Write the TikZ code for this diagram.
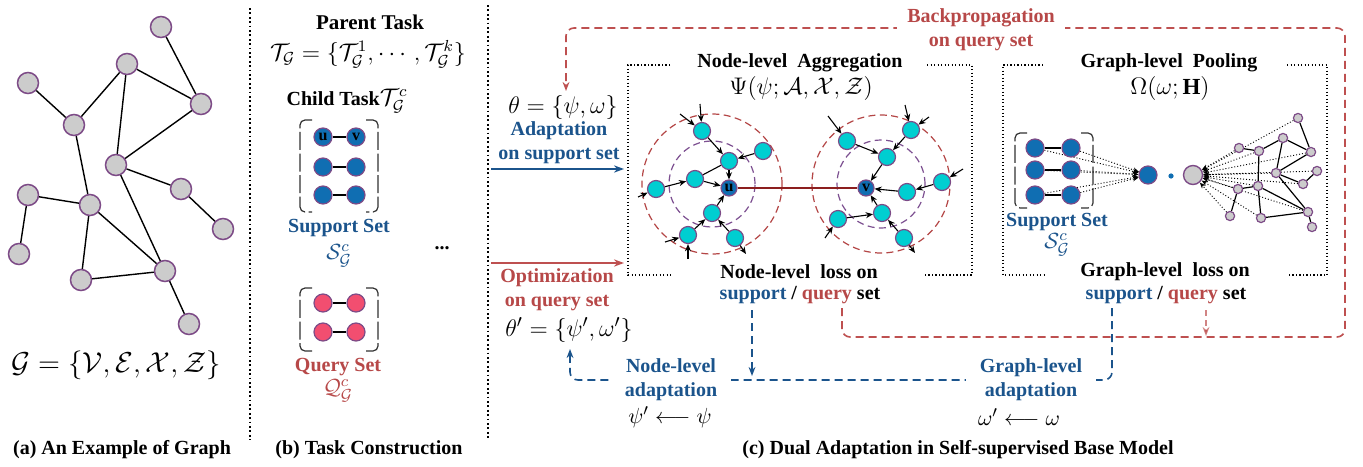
\documentclass[tikz,border=0pt]{standalone}
\usepackage{fontspec}
\setmainfont{Liberation Serif}
\usepackage{amsmath}
\usetikzlibrary{arrows.meta,backgrounds}
\definecolor{nodeGray}{RGB}{204,204,204}
\definecolor{purpB}{RGB}{125,75,135}
\definecolor{supBlue}{RGB}{16,110,178}
\definecolor{qPink}{RGB}{242,78,112}
\definecolor{cyanN}{RGB}{0,206,209}
\definecolor{txtBlue}{RGB}{27,84,140}
\definecolor{txtRed}{RGB}{183,72,72}
\definecolor{dRed}{RGB}{190,80,80}
\definecolor{ringRed}{RGB}{180,70,70}
\definecolor{ringPurp}{RGB}{125,80,145}
\definecolor{uvRed}{RGB}{140,30,30}
\definecolor{brk}{RGB}{50,50,50}
\begin{document}
\begin{tikzpicture}[x=0.5pt,y=-0.5pt,
 gnode/.style={circle,fill=nodeGray,draw=purpB,line width=0.75pt,minimum size=10.5pt,inner sep=0pt},
 snode/.style={circle,fill=supBlue,draw=purpB,line width=0.6pt,minimum size=9pt,inner sep=0pt,font=\fontsize{8}{8}\selectfont\bfseries},
 qnode/.style={snode,fill=qPink},
 cnode/.style={circle,fill=cyanN,draw=purpB,line width=0.6pt,minimum size=8.5pt,inner sep=0pt},
 tnode/.style={circle,fill=nodeGray,draw=purpB,line width=0.6pt,minimum size=4.6pt,inner sep=0pt},
 gedge/.style={line width=0.7pt},
 arr/.style={line width=0.55pt,-{Stealth[length=3.6pt,width=3pt]}},
 bigarr/.style={line width=0.8pt,-{Stealth[length=5pt,width=3.6pt]}},
 sepline/.style={line width=0.9pt,dash pattern=on 0.9pt off 1.3pt},
 boxline/.style={line width=0.55pt,dash pattern=on 0.55pt off 1.2pt},
 lbl/.style={font=\bfseries,inner sep=1pt},
 blbl/.style={lbl,text=txtBlue},
 rlbl/.style={lbl,text=txtRed},
 bracket/.style={draw=brk,line width=0.6pt,dash pattern=on 9pt off 1.8pt,rounded corners=2.5pt},
 reddash/.style={draw=dRed,line width=0.8pt,dash pattern=on 4pt off 2.5pt,rounded corners=4pt},
 bluedash/.style={draw=txtBlue,line width=0.8pt,dash pattern=on 4pt off 2.5pt,rounded corners=4pt},
 dashtip/.style={-{Stealth[length=4.5pt,width=3.4pt]}},
 dotarr/.style={line width=0.45pt,dash pattern=on 0.5pt off 1pt,-{Stealth[length=3pt,width=2.4pt]}},
 ringR/.style={draw=ringRed,line width=0.6pt,dash pattern=on 3.5pt off 2.2pt},
 ringP/.style={draw=ringPurp,line width=0.6pt,dash pattern=on 3.5pt off 2.2pt}
]
\begin{pgfonlayer}{background}
\fill[white] (0,0) rectangle (1363,466);
\end{pgfonlayer}
\useasboundingbox (0,0) rectangle (1363,466);

% ---------------- panel (a)
\node[gnode] (n1) at (161,27) {};
\node[gnode] (n2) at (127,64) {};
\node[gnode] (n3) at (28,83) {};
\node[gnode] (n4) at (201,104) {};
\node[gnode] (n5) at (74,125) {};
\node[gnode] (n6) at (116,165) {};
\node[gnode] (n7) at (181,189) {};
\node[gnode] (n8) at (28,195) {};
\node[gnode] (n9) at (90,205) {};
\node[gnode] (n10) at (223,229) {};
\node[gnode] (n11) at (19,254) {};
\node[gnode] (n12) at (81,280) {};
\node[gnode] (n13) at (165,271) {};
\node[gnode] (n14) at (189,324) {};
\foreach \a/\b in {n1/n4,n2/n4,n2/n5,n2/n6,n3/n5,n4/n6,n5/n9,n6/n7,n6/n13,n7/n10,n8/n9,n8/n11,n9/n12,n9/n13,n12/n13,n13/n14}
  \draw[gedge] (\a) -- (\b);
\node (gf) at (116,365) {\fontsize{14}{16}\selectfont $\mathcal{G}=\{\mathcal{V},\mathcal{E},\mathcal{X},\mathcal{Z}\}$};
\node[lbl] (capa) at (122,450) {(a) An Example of Graph};

\draw[sepline] (250,8) -- (250,440);

% ---------------- panel (b)
\node[lbl,font=\bfseries\fontsize{10.5}{12}\selectfont] (pt) at (370,22) {Parent Task};
\node (tg) at (368,54) {\fontsize{12}{14}\selectfont $\mathcal{T}_{\mathcal{G}}=\{\mathcal{T}^1_{\mathcal{G}},\cdots,\mathcal{T}^k_{\mathcal{G}}\}$};
\node[lbl] (ct) at (347,101) {Child Task{\fontsize{11.5}{13}\selectfont$\mathcal{T}^c_{\mathcal{G}}$}};
\node[snode] (s1u) at (323,137) {u};
\node[snode] (s1v) at (356,137) {v};
\node[snode] (s2u) at (323,167) {};
\node[snode] (s2v) at (356,167) {};
\node[snode] (s3u) at (323,195) {};
\node[snode] (s3v) at (356,195) {};
\foreach \a/\b in {s1u/s1v,s2u/s2v,s3u/s3v} \draw[gedge] (\a) -- (\b);
\draw[bracket] (312,120) -| (300,212) -- (312,212);
\draw[bracket] (366,120) -| (378,212) -- (366,212);
\node[blbl] (ss) at (339,228) {Support Set};
\node[text=txtBlue] (ssm) at (339,256) {\fontsize{11}{12}\selectfont$\mathcal{S}^c_{\mathcal{G}}$};
\node[lbl] (dots) at (442,248) {...};
\node[qnode] (q1u) at (323,303) {};
\node[qnode] (q1v) at (356,303) {};
\node[qnode] (q2u) at (323,332) {};
\node[qnode] (q2v) at (356,332) {};
\foreach \a/\b in {q1u/q1v,q2u/q2v} \draw[gedge] (\a) -- (\b);
\draw[bracket] (312,288) -| (300,351) -- (312,351);
\draw[bracket] (366,288) -| (378,351) -- (366,351);
\node[rlbl] (qs) at (338,367) {Query Set};
\node[text=txtRed] (qsm) at (338,391) {\fontsize{11}{12}\selectfont$\mathcal{Q}^c_{\mathcal{G}}$};
\node[lbl] (capb) at (369,450) {(b) Task Construction};

\draw[sepline] (488,5) -- (488,440);

% ---------------- panel (c) left column
\node (th) at (563,107) {\fontsize{13}{15}\selectfont$\theta=\{\psi,\omega\}$};
\node[blbl,align=center] (adl) at (559,143) {Adaptation\\on support set};
\coordinate (ab0) at (491,169); \coordinate (ab1) at (624,169);
\draw[bigarr,txtBlue] (ab0) -- (ab1);
\coordinate (ar0) at (491,263); \coordinate (ar1) at (624,263);
\draw[bigarr,dRed] (ar0) -- (ar1);
\node[rlbl,align=center] (opl) at (557,290) {Optimization\\on query set};
\node (thp) at (569,330) {\fontsize{13}{15}\selectfont$\theta'=\{\psi',\omega'\}$};

% ---------------- node-level box
\draw[boxline] (670,65) -- (628,65) -- (628,275) -- (672,275);
\draw[boxline] (927,65) -- (972,65) -- (972,275) -- (925,275);
\node[lbl] (nat) at (800,63) {Node-level\ \ Aggregation};
\node (psi) at (801,88) {\fontsize{11.5}{13}\selectfont$\Psi(\psi;\mathcal{A},\mathcal{X},\mathcal{Z})$};

\draw[ringR] (712,184) circle[radius=35pt];
\draw[ringP] (712,184) circle[radius=21.5pt];
\draw[ringR] (881,184) circle[radius=34.5pt];
\draw[ringP] (881,184) circle[radius=22pt];

\node[cnode] (a1) at (702,131) {};
\node[cnode] (a2) at (729,161) {};
\node[cnode] (a3) at (763,151) {};
\node[cnode] (a4) at (695,179) {};
\node[cnode] (a5) at (656,189) {};
\node[cnode] (a6) at (712,213) {};
\node[cnode] (a7) at (688,235) {};
\node[cnode] (a8) at (735,238) {};
\node[snode,minimum size=8pt] (u) at (729,188) {u};
\coordinate (ea1a) at (700,104); \coordinate (ea1b) at (680,114);
\coordinate (ea5) at (638,197); \coordinate (ea7a) at (665,242);
\coordinate (ea7b) at (688,259); \coordinate (ea8) at (746,254);
\foreach \a/\b in {ea1a/a1,ea1b/a1,a1/a2,a3/a2,a2/u,ea5/a5,a5/a4,a4/u,a6/u,a7/a6,a8/a6,ea7a/a7,ea7b/a7,a8/ea8}
  \draw[arr] (\a) -- (\b);
\draw[line width=0.55pt] (a4) -- (a2);

\node[cnode] (b1) at (847,141) {};
\node[cnode] (b2) at (911,130) {};
\node[cnode] (b3) at (887,157) {};
\node[cnode] (b4) at (942,182) {};
\node[cnode] (b5) at (907,192) {};
\node[cnode] (b6) at (882,213) {};
\node[cnode] (b7) at (838,219) {};
\node[cnode] (b8) at (904,238) {};
\node[snode,minimum size=8pt] (v) at (866,188) {v};
\coordinate (eb1) at (828,116); \coordinate (eb2a) at (905,105);
\coordinate (eb2b) at (929,117); \coordinate (eb4) at (963,169);
\coordinate (eb7) at (825,238); \coordinate (eb8) at (915,253);
\foreach \a/\b in {eb1/b1,b1/b3,eb2a/b2,eb2b/b2,b2/b3,b3/v,eb4/b4,b4/b5,b5/v,b6/v,b7/b6,b8/b6,eb7/b7,b8/eb8}
  \draw[arr] (\a) -- (\b);
\draw[uvRed,line width=0.8pt] (u) -- (v);

\node[lbl] (nll) at (799,272) {Node-level\ \ loss on};
\node[lbl] (nls) at (800,295) {\textcolor{txtBlue}{support} / \textcolor{txtRed}{query} set};

% ---------------- graph-level box
\draw[boxline] (1043,65) -- (1003,65) -- (1003,275) -- (1045,275);
\draw[boxline] (1287,65) -- (1327,65) -- (1327,275) -- (1287,275);
\node[lbl] (glp) at (1169,63) {Graph-level\ \ Pooling};
\node (omg) at (1170,88) {\fontsize{11.5}{13}\selectfont$\Omega(\omega;\mathbf{H})$};

\node[snode] (p1) at (1035,148) {};
\node[snode] (p2) at (1071,148) {};
\node[snode] (p3) at (1035,170) {};
\node[snode] (p4) at (1071,170) {};
\node[snode] (p5) at (1035,195) {};
\node[snode] (p6) at (1071,195) {};
\foreach \a/\b in {p1/p2,p3/p4,p5/p6} \draw[line width=0.9pt] (\a) -- (\b);
\draw[bracket] (1027,133) -| (1015,208) -- (1027,208);
\draw[bracket] (1081,133) -| (1093,208) -- (1081,208);
\node[blbl] (ss2) at (1057,222) {Support Set};
\node[text=txtBlue] (ssm2) at (1057,245) {\fontsize{11}{12}\selectfont$\mathcal{S}^c_{\mathcal{G}}$};

\node[snode] (pool) at (1148,175) {};
\node[circle,fill=supBlue,inner sep=0pt,minimum size=2.6pt] (pdot) at (1171,176) {};
\node[circle,fill=nodeGray,draw=purpB,line width=0.7pt,minimum size=9.5pt,inner sep=0pt] (gp) at (1193,175) {};

\node[tnode] (g1) at (1298,118) {};
\node[tnode] (g2) at (1283,138) {};
\node[tnode] (g3) at (1239,148) {};
\node[tnode] (g4) at (1259,151) {};
\node[tnode] (g5) at (1311,152) {};
\node[tnode] (g6) at (1276,173) {};
\node[tnode] (g7) at (1317,171) {};
\node[tnode] (g8) at (1303,184) {};
\node[tnode] (g9) at (1258,186) {};
\node[tnode] (g10) at (1238,189) {};
\node[tnode] (g11) at (1230,216) {};
\node[tnode] (g12) at (1261,218) {};
\node[tnode] (g13) at (1308,212) {};
\node[tnode] (g14) at (1312,227) {};
\foreach \a/\b in {g1/g5,g2/g4,g2/g5,g2/g6,g3/g4,g4/g9,g5/g6,g6/g8,g6/g13,g7/g8,g9/g10,g9/g12,g9/g13,g10/g11,g12/g13,g13/g14}
  \draw[line width=0.6pt] (\a) -- (\b);
\begin{pgfonlayer}{background}
\foreach \a in {p1,p2,p3,p4,p5,p6} \draw[dotarr] (\a) -- (pool);
\foreach \a in {g1,g3,g4,g5,g6,g7,g8,g9,g10,g11,g12,g13} \draw[dotarr] (\a) -- (gp);
\end{pgfonlayer}

\node[lbl] (gll) at (1165,272) {Graph-level\ \ loss on};
\node[lbl] (gls) at (1166,295) {\textcolor{txtBlue}{support} / \textcolor{txtRed}{query} set};

% ---------------- connectors
\coordinate (rp0) at (842,308); \coordinate (rp1) at (566,91);
\draw[reddash,dashtip] (rp0) |- (1345,337) |- (566,28) -- (rp1);
\node[rlbl,align=center,fill=white,inner xsep=5pt,inner ysep=1pt] (bpl) at (981,30) {Backpropagation\\on query set};
\coordinate (rs0) at (1206,310); \coordinate (rs1) at (1206,336);
\draw[draw=dRed,opacity=0.7,line width=0.8pt,dash pattern=on 3pt off 2pt,dashtip] (rs0) -- (rs1);

\coordinate (bp0) at (1112,308); \coordinate (bp1) at (570,349);
\draw[bluedash,dashtip] (bp0) |- (570,380) -- (bp1);
\coordinate (bd0) at (752,310); \coordinate (bd1) at (752,376);
\draw[bluedash,dashtip] (bd0) -- (bd1);
\node[blbl,align=center,fill=white,inner xsep=7pt,inner ysep=1pt] (nad) at (671,380) {Node-level\\adaptation};
\node[blbl,align=center,fill=white,inner xsep=7pt,inner ysep=1pt] (gad) at (1031,380) {Graph-level\\adaptation};
\node (psiu) at (670,417) {\fontsize{11}{13}\selectfont$\psi'\longleftarrow\psi$};
\node (omu) at (1019,417) {\fontsize{11}{13}\selectfont$\omega'\longleftarrow\omega$};

\node[lbl] (capc) at (958,450) {(c) Dual Adaptation in Self-supervised Base Model};
\end{tikzpicture}
\end{document}
